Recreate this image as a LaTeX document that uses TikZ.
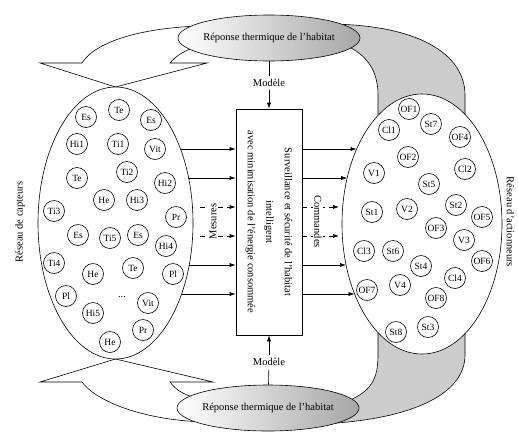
\documentclass[tikz,border=0pt]{standalone}
\usepackage{fontspec}
\setmainfont{Liberation Serif}
\usetikzlibrary{shapes.geometric, arrows.meta}

\begin{document}
\begin{tikzpicture}[
    % 1. One unit is one pixel of the original, y going down
    x=1pt, y=-1pt,
    >={Latex[length=6pt,width=4pt]},
    line width=0.6pt,
    font=\fontsize{10.5}{12}\selectfont,
    % 2. Styles for the shapes that repeat
    bulle/.style={ellipse, draw, minimum width=182pt, minimum height=46pt, left color=white, right color=black!35},
    reseau/.style={ellipse, draw, fill=white},
    unite/.style={circle, draw, fill=white, minimum size=21pt, inner sep=0pt, font=\fontsize{9.5}{10}\selectfont},
    pointille/.style={->, dash pattern=on 5pt off 4pt},
    etiquette/.style={fill=white, inner sep=1pt}
]
    \useasboundingbox (0,0) rectangle (518,434);

    % --- GREY BAND (right) ---
    \draw[fill=gray!40] (325,24) .. controls (420,24) and (465,55) .. (465,95) -- (465,355)
        .. controls (465,395) and (410,420) .. (320,424) -- (345,402)
        .. controls (372,392) and (378,378) .. (378,355) -- (378,95)
        .. controls (378,72) and (368,55) .. (345,45) -- cycle;

    % --- CALLOUTS (left) ---
    \draw[fill=white] (200,26) .. controls (140,28) and (95,42) .. (82,63) -- (40,63) -- (115.5,87)
        -- (207,63) -- (170,63) .. controls (176,56) and (184,50) .. (200,46) -- cycle;
    \draw[fill=white] (205,422) .. controls (140,420) and (95,400) .. (82,382) -- (40,382) -- (115.5,359)
        -- (213,382) -- (170,382) .. controls (176,390) and (184,396) .. (205,400) -- cycle;

    % --- MAIN NODES ---
    \node (capteurs) [reseau, minimum width=155pt, minimum height=272pt] at (115.5,223) {};
    \node (actionneurs) [reseau, minimum width=160pt, minimum height=260pt] at (422,224) {};
    \node (reptop) [bulle] at (269,38) {};
    \node (reptoptxt) at (reptop.center) {Réponse thermique de l’habitat};
    \node (repbot) [bulle] at (268,408) {};
    \node (repbottxt) at (repbot.center) {Réponse thermique de l’habitat};
    \node (box) [draw, minimum width=66pt, minimum height=226pt, inner sep=0pt] at (269,222) {};
    \node (boxtxt) [rotate=-90, align=center, font=\fontsize{10.5}{18.5}\selectfont] at (box.center)
        {Surveillance et sécurité de l’habitat\\ intelligent\\ avec minimisation de l’énergie consommée};

    % --- SIDE LABELS ---
    \node (lblcapt) [rotate=90] at (20,222) {Réseau de capteurs};
    \node (lblact) [rotate=-90, inner sep=0pt] at (510.5,222) {Réseau d’actionneurs};

    % --- MODELE ---
    \node (mtop) at (269,83) {Modèle};
    \node (mbot) at (269,362) {Modèle};
    \draw (reptop) -- (mtop);
    \draw[->] (mtop) -- (box);
    \draw (repbot) -- (mbot);
    \draw[->] (mbot) -- (box);

    % --- SENSORS ---
    \foreach \t/\x/\y [count=\i] in {Es/86/117, Te/119/110, Es/151/120, Hi1/77/144, Ti1/118/144,
        Vit/155/149, Te/77/178, Ti2/127/172, Hi2/165/183, He/104/200, Hi3/137/200, Ti3/54/211,
        Pr/176/217, Es/78/235, Ti5/110/238, Es/138/235, Hi4/166/246, Ti4/54/263, He/93/274,
        Te/133/268, Pl/173/274, Pl/66/296, Vit/148/303, Hi5/93/313, Pr/143/330, He/110/342}
        \node (c\i) [unite] at (\x,\y) {\t};
    \node (cdots) at (122,297) {...};

    % --- ACTUATORS ---
    \foreach \t/\x/\y [count=\i] in {OF1/409/109, St7/431/124, Cl1/389/130, OF4/460/137,
        OF2/408/157, V1/374/173, Cl2/465/169, St5/429/184, St2/456/205, St1/372/212, V2/407/209,
        OF5/482/217, OF3/436/228, V3/464/240, Cl3/364/251, St6/393/251, St4/421/266, OF6/482/261,
        Cl4/455/278, OF7/367/290, V4/400/285, OF8/436/298, St8/396/332, St3/428/327}
        \node (a\i) [unite] at (\x,\y) {\t};

    % --- ARROWS ---
    \foreach \y [count=\i] in {149,178,265,294} {
        \pgfmathsetmacro\xg{115.5+77.5*sqrt(1-((\y-223)/136)^2)}
        \pgfmathsetmacro\xd{422-80*sqrt(1-((\y-224)/130)^2)}
        \coordinate (g\i) at (\xg,\y);
        \coordinate (d\i) at (\xd,\y);
        \draw[->] (g\i) -- (g\i -| box.west);
        \draw[->] (d\i -| box.east) -- (d\i);
    }
    \foreach \y [count=\i] in {207,236} {
        \coordinate (mg\i) at (200,\y);
        \coordinate (md\i) at (339,\y);
        \draw[pointille] (mg\i) -- (mg\i -| box.west);
        \draw[pointille] (md\i -| box.east) -- (md\i);
    }
    \node (mesures) [etiquette, rotate=90] at (213,221.5) {Mesures};
    \node (commandes) [etiquette, rotate=-90] at (318,221.5) {Commandes};

\end{tikzpicture}
\end{document}
